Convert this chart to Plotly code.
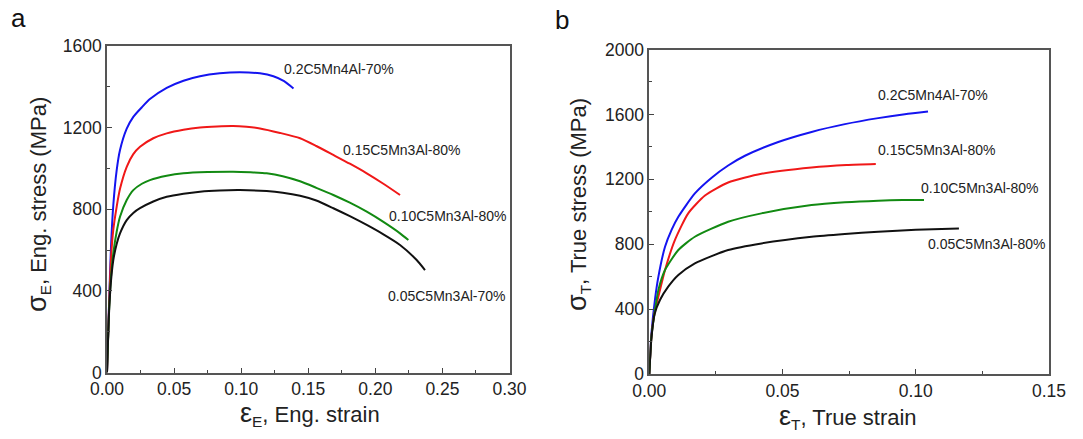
import plotly.graph_objects as go

# ---- Panel a: engineering stress-strain ----
eng_labels = ["0.2C5Mn4Al-70%", "0.15C5Mn3Al-80%", "0.10C5Mn3Al-80%", "0.05C5Mn3Al-70%"]
eng_blue_x = [0, 0.0015, 0.003, 0.0047, 0.0072, 0.0097, 0.0147, 0.0196, 0.026, 0.032, 0.0445, 0.057, 0.0693, 0.084, 0.099, 0.114, 0.124, 0.132, 0.139]
eng_blue_y = [0, 330, 620, 820, 990, 1090, 1195, 1253, 1300, 1340, 1395, 1430, 1452, 1466, 1471, 1466, 1452, 1428, 1392]
eng_red_x = [0, 0.0015, 0.003, 0.0047, 0.0072, 0.0097, 0.0147, 0.0196, 0.0246, 0.0345, 0.0445, 0.057, 0.0693, 0.082, 0.094, 0.104, 0.114, 0.129, 0.1439, 0.156, 0.1687, 0.181, 0.1936, 0.206, 0.2184]
eng_red_y = [0, 320, 560, 700, 812, 900, 1008, 1070, 1106, 1148, 1172, 1190, 1201, 1206, 1208, 1204, 1196, 1174, 1148, 1110, 1066, 1023, 976, 925, 870]
eng_green_x = [0, 0.0015, 0.003, 0.0047, 0.0072, 0.0097, 0.0147, 0.0196, 0.026, 0.032, 0.0445, 0.057, 0.075, 0.094, 0.107, 0.119, 0.131, 0.1439, 0.156, 0.1687, 0.181, 0.1936, 0.206, 0.2184, 0.2246]
eng_green_y = [0, 300, 470, 585, 690, 763, 845, 894, 925, 943, 964, 976, 982, 984, 981, 976, 962, 937, 905, 870, 832, 788, 738, 682, 649]
eng_black_x = [0, 0.0015, 0.003, 0.0047, 0.0072, 0.0097, 0.0147, 0.0196, 0.0246, 0.0345, 0.0445, 0.057, 0.0693, 0.084, 0.099, 0.119, 0.131, 0.1439, 0.156, 0.1687, 0.181, 0.1936, 0.206, 0.2184, 0.2308, 0.237]
eng_black_y = [0, 290, 450, 551, 630, 682, 747, 782, 805, 838, 861, 876, 886, 892, 894, 889, 881, 866, 843, 805, 766, 723, 677, 625, 551, 502]

# ---- Panel b: true stress-strain ----
true_labels = ["0.2C5Mn4Al-70%", "0.15C5Mn3Al-80%", "0.10C5Mn3Al-80%", "0.05C5Mn3Al-80%"]
true_blue_x = [0, 0.0008, 0.0021, 0.0034, 0.0059, 0.0084, 0.0109, 0.0171, 0.0234, 0.0296, 0.0359, 0.0484, 0.0609, 0.0734, 0.0859, 0.0959, 0.1046]
true_blue_y = [0, 250, 456, 599, 784, 890, 969, 1113, 1210, 1285, 1345, 1430, 1492, 1540, 1577, 1601, 1618]
true_red_x = [0, 0.0008, 0.002, 0.0034, 0.0059, 0.0096, 0.0146, 0.0209, 0.0296, 0.0421, 0.0609, 0.074, 0.085]
true_red_y = [0, 230, 380, 476, 641, 825, 990, 1100, 1180, 1234, 1273, 1288, 1294]
true_green_x = [0, 0.0008, 0.002, 0.0034, 0.0059, 0.0109, 0.0171, 0.0296, 0.0421, 0.0609, 0.0734, 0.0859, 0.095, 0.1031]
true_green_y = [0, 230, 380, 517, 641, 764, 846, 938, 990, 1041, 1058, 1068, 1072, 1072]
true_black_x = [0, 0.0008, 0.002, 0.004, 0.0071, 0.0109, 0.0171, 0.0296, 0.0421, 0.0609, 0.0734, 0.0859, 0.1, 0.1162]
true_black_y = [0, 220, 370, 456, 538, 610, 682, 764, 805, 846, 863, 877, 889, 897]

colors = ["#1414f0", "#f01818", "#128a12", "#111111"]

OFF = 8  # default body margin of the html page
W, H = 1083 - OFF, 439 - OFF
def px_x(p):
    return (p - OFF) / W
def px_y(p):
    return 1 - (p - OFF) / H

fig = go.Figure()

eng_series = [(eng_blue_x, eng_blue_y), (eng_red_x, eng_red_y), (eng_green_x, eng_green_y), (eng_black_x, eng_black_y)]
true_series = [(true_blue_x, true_blue_y), (true_red_x, true_red_y), (true_green_x, true_green_y), (true_black_x, true_black_y)]

for (x, y), c, name in zip(eng_series, colors, eng_labels):
    fig.add_trace(go.Scatter(x=x, y=y, mode="lines", line=dict(color=c, width=2, shape="spline", smoothing=0.6),
                             name=name, xaxis="x", yaxis="y", showlegend=False))
for (x, y), c, name in zip(true_series, colors, true_labels):
    fig.add_trace(go.Scatter(x=x, y=y, mode="lines", line=dict(color=c, width=2, shape="spline", smoothing=0.6),
                             name=name, xaxis="x2", yaxis="y2", showlegend=False))

axis_common = dict(
    showline=True, linecolor="#555555", linewidth=1.6, mirror=True,
    ticks="inside", ticklen=5, tickwidth=1.2, tickcolor="#444444",
    showgrid=False, zeroline=False, automargin=False,
    tickfont=dict(family="Arial, Liberation Sans", size=17.5, color="#222222"),
)
minor_common = dict(ticks="inside", ticklen=3, tickwidth=1.2, tickcolor="#444444", showgrid=False)

fig.update_layout(
    width=W, height=H,
    margin=dict(l=0, r=0, t=0, b=0, autoexpand=False),
    paper_bgcolor="white", plot_bgcolor="white",
    xaxis=dict(domain=[px_x(107), px_x(509.5)], range=[0, 0.30], tickvals=[0, 0.05, 0.10, 0.15, 0.20, 0.25, 0.30],
               tickformat=".2f", minor=dict(dtick=0.025, tick0=0, **minor_common),
               anchor="y", **axis_common),
    yaxis=dict(domain=[px_y(372.5), px_y(46)], range=[0, 1600], tickvals=[0, 400, 800, 1200, 1600],
               minor=dict(dtick=200, tick0=0, **minor_common),
               anchor="x", **axis_common),
    xaxis2=dict(domain=[px_x(649.3), px_x(1049)], range=[0, 0.15], tickvals=[0, 0.05, 0.10, 0.15],
                tickformat=".2f", minor=dict(dtick=0.025, tick0=0, **minor_common),
                anchor="y2", **axis_common),
    yaxis2=dict(domain=[px_y(374), px_y(49.5)], range=[0, 2000], tickvals=[0, 400, 800, 1200, 1600, 2000],
                minor=dict(dtick=200, tick0=0, **minor_common),
                anchor="x2", **axis_common),
)

lab_font = dict(family="Arial, Liberation Sans", size=14, color="#222222")
eng_lab_pos = [(0.1304, 1487), (0.1747, 1092), (0.2090, 769), (0.208, 375)]
true_lab_pos = [(0.085, 1719), (0.085, 1380), (0.1012, 1146), (0.1038, 801)]
for t, (x, y) in zip(eng_labels, eng_lab_pos):
    fig.add_annotation(x=x, y=y, xref="x", yref="y", text=t, showarrow=False, xanchor="left", yanchor="middle", font=lab_font)
for t, (x, y) in zip(true_labels, true_lab_pos):
    fig.add_annotation(x=x, y=y, xref="x2", yref="y2", text=t, showarrow=False, xanchor="left", yanchor="middle", font=lab_font)

title_font = dict(family="Arial, Liberation Sans", size=22, color="#222222")
big = '<span style="font-size:27px">{}</span>'
# axis titles
fig.add_annotation(x=px_x(310), y=px_y(414), xref="paper", yref="paper", showarrow=False,
                   text=big.format("ε") + "<sub>E</sub>, Eng. strain", font=title_font, xanchor="center", yanchor="middle")
fig.add_annotation(x=px_x(848), y=px_y(417), xref="paper", yref="paper", showarrow=False,
                   text=big.format("ε") + "<sub>T</sub>, True strain", font=title_font, xanchor="center", yanchor="middle")
fig.add_annotation(x=px_x(38), y=px_y(205), xref="paper", yref="paper", showarrow=False, textangle=-90,
                   text=big.format("σ") + "<sub>E</sub>, Eng. stress (MPa)", font=title_font, xanchor="center", yanchor="middle")
fig.add_annotation(x=px_x(578), y=px_y(205), xref="paper", yref="paper", showarrow=False, textangle=-90,
                   text=big.format("σ") + "<sub>T</sub>, True stress (MPa)", font=title_font, xanchor="center", yanchor="middle")
# panel letters
letter_font = dict(family="Arial, Liberation Sans", size=26, color="#111111")
fig.add_annotation(x=px_x(18), y=px_y(18), xref="paper", yref="paper", showarrow=False, text="a",
                   font=letter_font, xanchor="center", yanchor="middle")
fig.add_annotation(x=px_x(562), y=px_y(20), xref="paper", yref="paper", showarrow=False, text="b",
                   font=letter_font, xanchor="center", yanchor="middle")

fig.write_html("out.html")
